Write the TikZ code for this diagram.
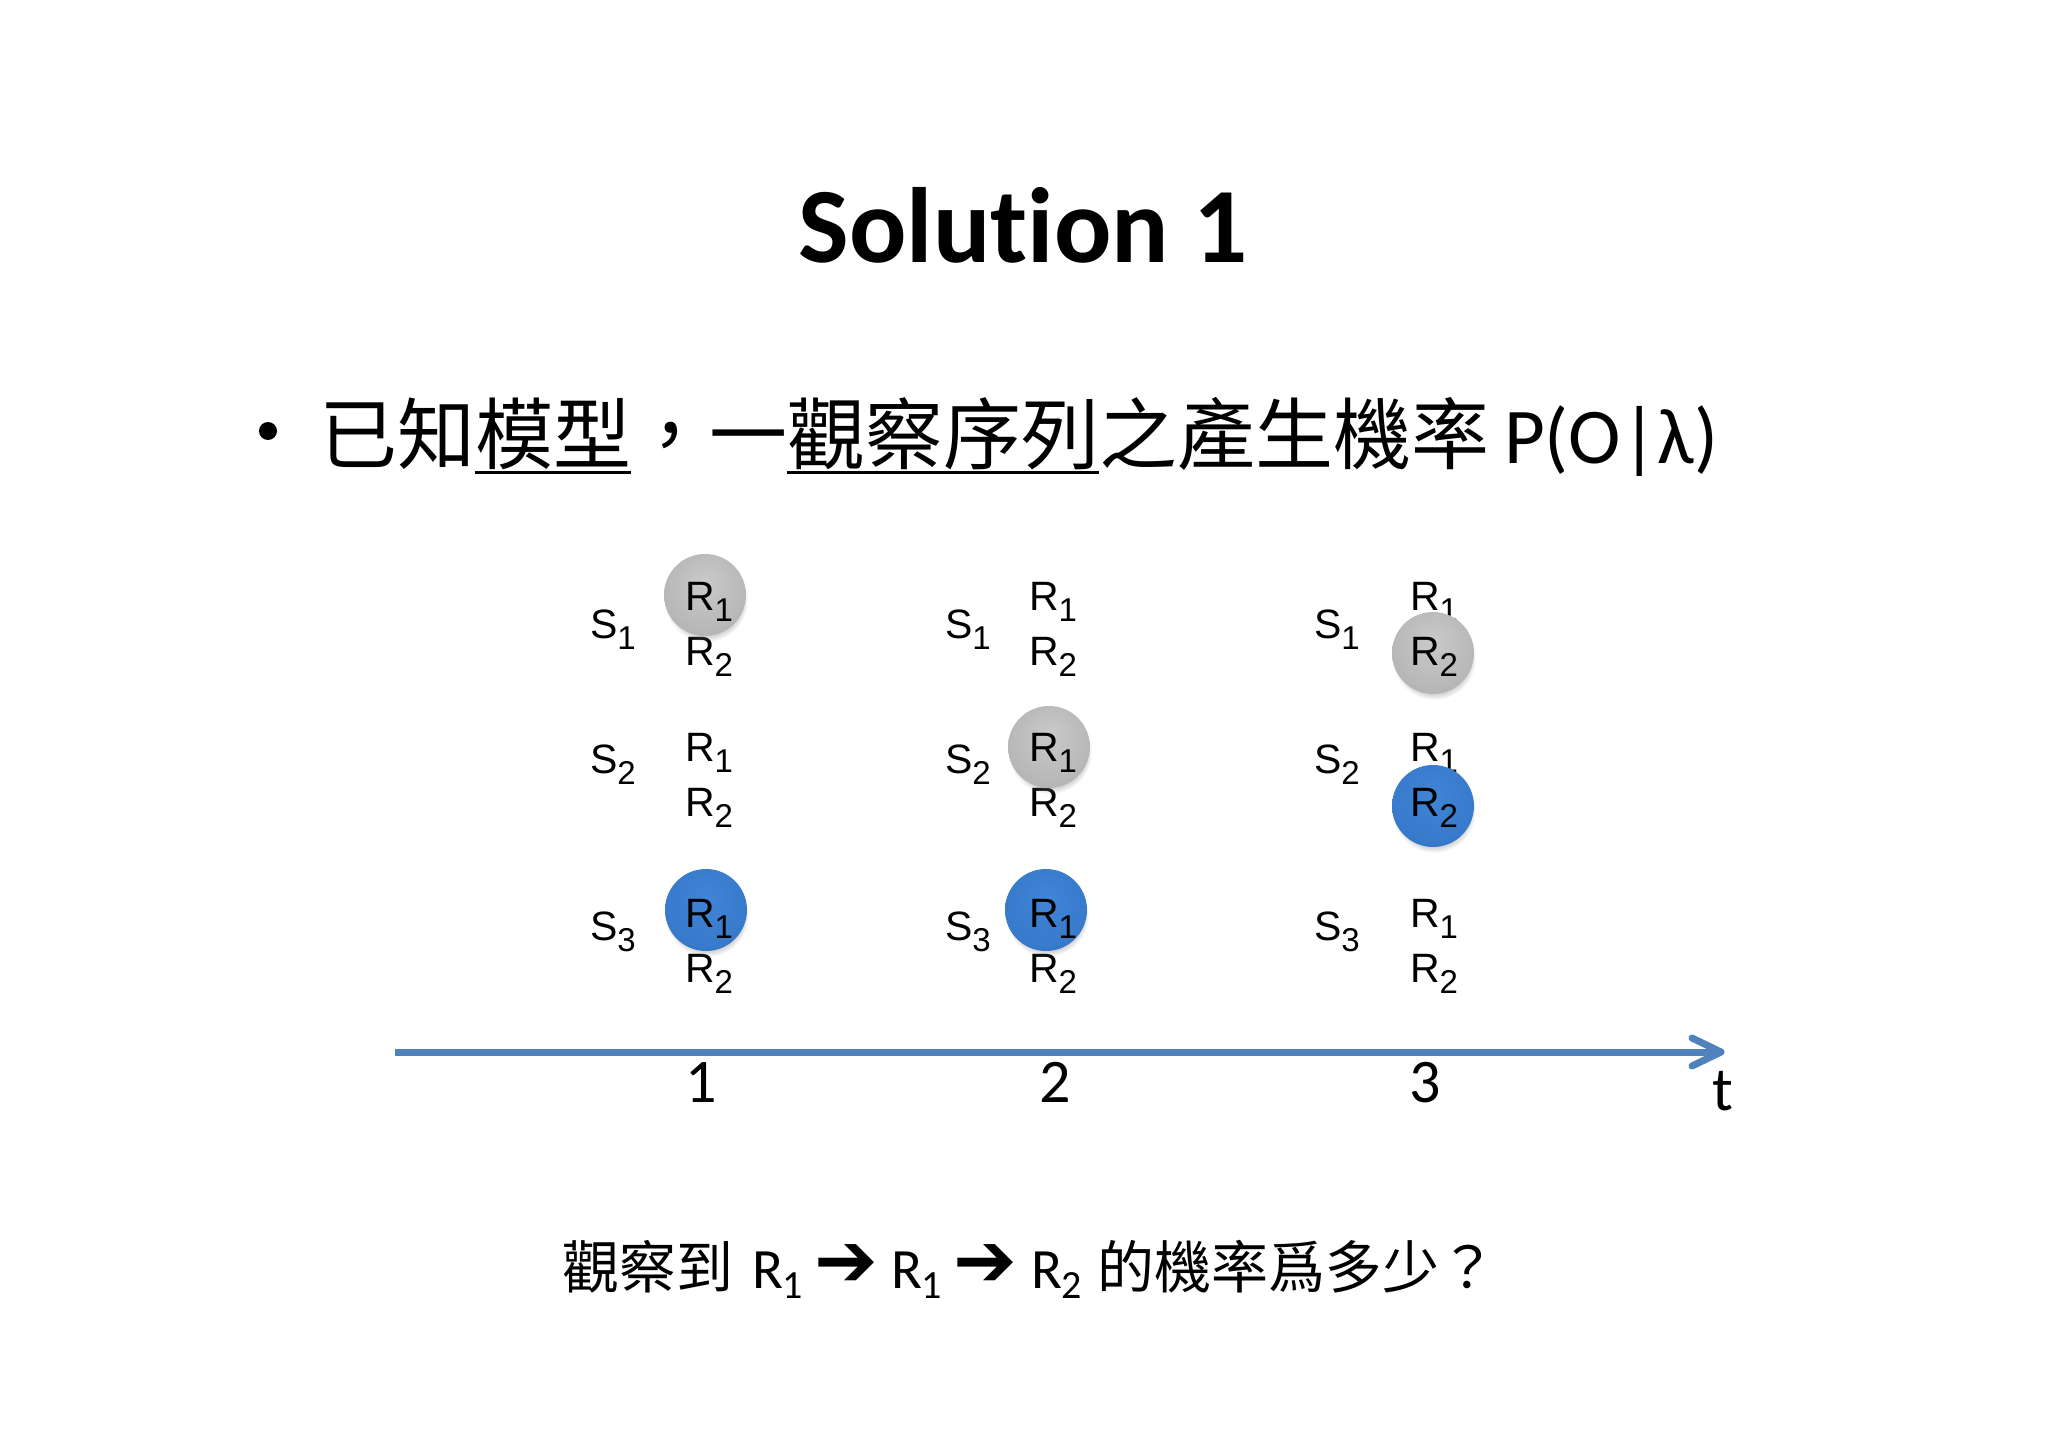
\documentclass[tikz,border=0pt]{standalone}
\usepackage{fontspec}
\setmainfont{Carlito}[Ligatures=NoCommon]
\newfontfamily\cjk{Noto Sans CJK TC}
\newfontfamily\hel{Liberation Sans}
\newfontfamily\djv{DejaVu Sans}
\usetikzlibrary{shadows,calc}
\newcommand\fsz[1]{\fontsize{#1}{#1}\selectfont}
\newcommand\gs[1]{\raisebox{-11pt}{\fsz{33}#1}}
\newcommand\bs[1]{\raisebox{-10pt}{\fsz{40}#1}}
\definecolor{axisblue}{RGB}{79,129,189}
\pgfdeclareradialshading{grayball}{\pgfpoint{0bp}{8bp}}{rgb(0bp)=(0.79,0.79,0.79);rgb(25bp)=(0.72,0.72,0.72);rgb(40bp)=(0.66,0.66,0.66);rgb(50bp)=(0.60,0.60,0.60)}
\pgfdeclareradialshading{blueball}{\pgfpoint{0bp}{8bp}}{rgb(0bp)=(0.25,0.52,0.84);rgb(25bp)=(0.22,0.48,0.80);rgb(40bp)=(0.18,0.41,0.72);rgb(50bp)=(0.14,0.33,0.62)}
\begin{document}
\begin{tikzpicture}[x=1pt,y=-1pt,
  every node/.style={inner sep=0pt, outer sep=0pt},
  titletext/.style={font=\bfseries\fsz{107}, anchor=base},
  bultext/.style={font=\cjk\fsz{78}, anchor=base west},
  uline/.style={line width=3pt},
  glab/.style={font=\hel\fsz{41}, anchor=base west},
  ballshadow/.style={circular drop shadow={shadow xshift=1pt, shadow yshift=-5pt, shadow scale=1.02, opacity=0.35}},
  grayb/.style={circle, minimum size=82pt, shading=grayball, ballshadow},
  blueb/.style={circle, minimum size=82pt, shading=blueball, ballshadow},
  axisline/.style={draw=axisblue, line width=7pt},
  ticklab/.style={font=\fsz{62}, anchor=base},
  qtext/.style={anchor=base west},
  qarrow/.style={font=\djv\fsz{76}}
]
\useasboundingbox[fill=white] (0,0) rectangle (2048,1447);

% title
\node[titletext] (title) at (1023,263) {Solution 1};

% bullet line
\node[circle, fill=black, minimum size=18pt] (dot) at (268,431) {};
\node[bultext] (s1) at (319,463) {已知};
\node[bultext] (s2) at (s1.base east) {模型};
\node[bultext] (s3) at (s2.base east) {，一};
\node[bultext] (s4) at (s3.base east) {觀察序列};
\node[bultext] (s5) at (s4.base east) {之產生機率};
\node[font=\fsz{79}, anchor=base west] (s6) at (1504,463) {P(O|λ)};
\draw[uline] ([yshift=-9pt]s2.base west) -- ([yshift=-9pt]s2.base east);
\draw[uline] ([yshift=-9pt]s4.base west) -- ([yshift=-9pt]s4.base east);

% grid: state labels
\node[glab] (c1s1) at (590,638) {S\gs{1}};
\node[glab] (c1s2) at (590,773) {S\gs{2}};
\node[glab] (c1s3) at (590,940) {S\gs{3}};
\node[glab] (c2s1) at (945,638) {S\gs{1}};
\node[glab] (c2s2) at (945,773) {S\gs{2}};
\node[glab] (c2s3) at (945,940) {S\gs{3}};
\node[glab] (c3s1) at (1314,638) {S\gs{1}};
\node[glab] (c3s2) at (1314,773) {S\gs{2}};
\node[glab] (c3s3) at (1314,940) {S\gs{3}};

% grid: observation labels not highlighted
\node[glab] (c1r1b) at (685,665) {R\gs{2}};
\node[glab] (c1r2a) at (685,761) {R\gs{1}};
\node[glab] (c1r2b) at (685,816) {R\gs{2}};
\node[glab] (c1r3b) at (685,982) {R\gs{2}};
\node[glab] (c2r1a) at (1029,610) {R\gs{1}};
\node[glab] (c2r1b) at (1029,665) {R\gs{2}};
\node[glab] (c2r2b) at (1029,816) {R\gs{2}};
\node[glab] (c2r3b) at (1029,982) {R\gs{2}};
\node[glab] (c3r1a) at (1410,610) {R\gs{1}};
\node[glab] (c3r2a) at (1410,761) {R\gs{1}};
\node[glab] (c3r3a) at (1410,927) {R\gs{1}};
\node[glab] (c3r3b) at (1410,982) {R\gs{2}};

% balls
\node[grayb] (g1) at (705,595) {};
\node[blueb] (b1) at (706,910) {};
\node[grayb] (g2) at (1049,747) {};
\node[blueb] (b2) at (1046,910) {};
\node[grayb] (g3) at (1433,653) {};
\node[blueb] (b3) at (1433,806) {};

% highlighted labels
\node[glab] (c1r1a) at (685,610) {R\gs{1}};
\node[glab] (c1r3a) at (685,927) {R\gs{1}};
\node[glab] (c2r2a) at (1029,761) {R\gs{1}};
\node[glab] (c2r3a) at (1029,927) {R\gs{1}};
\node[glab] (c3r1b) at (1410,665) {R\gs{2}};
\node[glab] (c3r2b) at (1410,816) {R\gs{2}};

% time axis
\coordinate (a0) at (395,1052);
\coordinate (a1) at (1721,1052);
\draw[axisline] (a0) -- ($(a1)+(-4,0)$);
\draw[axisline, line join=round, line cap=round] ($(a1)+(-29,-14)$) -- (a1) -- ($(a1)+(-29,14)$);
\node[ticklab] (t1) at (701,1102) {1};
\node[ticklab] (t2) at (1055,1102) {2};
\node[ticklab] (t3) at (1425,1102) {3};
\node[ticklab] (tt) at (1723,1110) {t};

% question
\node[qtext, font=\cjk\fsz{57}] (q1) at (562,1288) {觀察到};
\node[qtext, font=\fsz{57}] (q2) at (752,1288) {R\bs{1}};
\node[qarrow] (q3) at (846,1266) {➔};
\node[qtext, font=\fsz{57}] (q4) at (891,1288) {R\bs{1}};
\node[qarrow] (q5) at (985,1266) {➔};
\node[qtext, font=\fsz{57}] (q6) at (1031,1288) {R\bs{2}};
\node[qtext, font=\cjk\fsz{57}] (q7) at (1097,1288) {的機率爲多少？};
\end{tikzpicture}
\end{document}
